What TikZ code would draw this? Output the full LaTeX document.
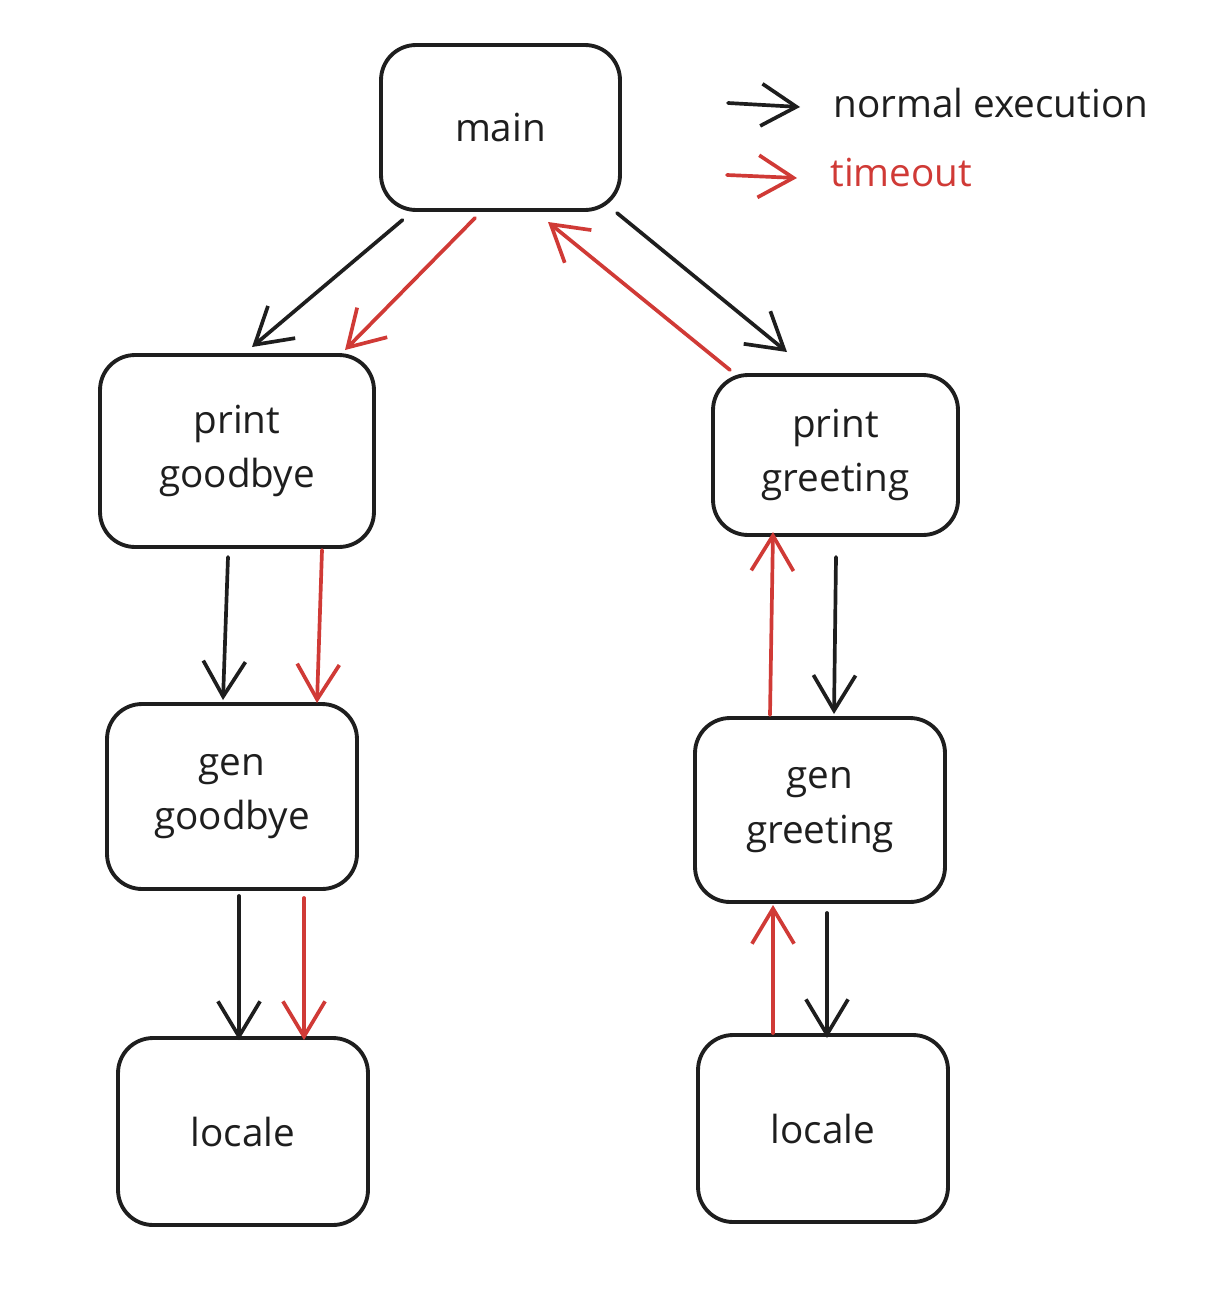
\documentclass[tikz,border=0pt]{standalone}
\usepackage{fontspec}
\setmainfont{Open Sans}
\usetikzlibrary{arrows.meta,calc}
\definecolor{ink}{HTML}{1E1E1E}
\definecolor{tred}{HTML}{D03A36}
\begin{document}
\begin{tikzpicture}[x=0.02cm,y=-0.02cm,
  box/.style={draw=ink,line width=2.2pt,rounded corners=0.7cm,inner sep=0pt,outer sep=0pt,
    align=center,font=\fontsize{22}{31}\selectfont,text=ink},
  blk/.style={draw=ink,line width=2.1pt,line cap=round,-{Straight Barb[length=20pt,width=24pt,line width=2.1pt]}},
  redarr/.style={draw=tred,line width=2.1pt,line cap=round,-{Straight Barb[length=20pt,width=24pt,line width=2.1pt]}},
  lbl/.style={anchor=west,inner sep=0pt,font=\fontsize{22}{26}\selectfont}]
\useasboundingbox (0,0) rectangle (1218,1298);
\node[box,minimum width=4.78cm,minimum height=3.3cm] (main) at (500.5,127.5) {main};
\node[box,minimum width=5.48cm,minimum height=3.84cm] (pgb) at (237,451) {print\\goodbye};
\node[box,minimum width=4.9cm,minimum height=3.2cm] (pgr) at (835.5,455) {print\\greeting};
\node[box,minimum width=5.0cm,minimum height=3.7cm] (ggb) at (232,796.5) {gen\\goodbye};
\node[box,minimum width=5.0cm,minimum height=3.68cm] (ggr) at (820,810) {gen\\greeting};
\node[box,minimum width=5.0cm,minimum height=3.74cm] (ll) at (243,1131.5) {locale};
\node[box,minimum width=5.0cm,minimum height=3.74cm] (lr) at (823,1128.5) {locale};
% connectors
\draw[blk] ($(main.south)+(-98,10)$) -- ($(pgb.north)+(15,-8)$);
\draw[redarr] ($(main.south)+(-25.5,8)$) -- ($(pgb.north)+(108,-5)$);
\draw[redarr] ($(pgr.north)+(-105.5,-5)$) -- ($(main.south)+(47.5,12)$);
\draw[blk] ($(main.south)+(116.5,3)$) -- ($(pgr.north)+(-48.5,-23)$);
\draw[blk] ($(pgb.south)+(-9,10)$) -- ($(ggb.north)+(-9,-4)$);
\draw[redarr] ($(pgb.south)+(85,3)$) -- ($(ggb.north)+(85,-1)$);
\draw[redarr] ($(ggr.north)+(-50,-3)$) -- ($(pgr.south)+(-62.5,-3)$);
\draw[blk] ($(pgr.south)+(0.5,22)$) -- ($(ggr.north)+(14,-4)$);
\draw[blk] ($(ggb.south)+(7,7)$) -- ($(ll.north)+(-4,2)$);
\draw[redarr] ($(ggb.south)+(72,9)$) -- ($(ll.north)+(61,2)$);
\draw[redarr] ($(lr.north)+(-50,-2)$) -- ($(ggr.south)+(-47,3)$);
\draw[blk] ($(ggr.south)+(7,11)$) -- ($(lr.north)+(4,3)$);
% legend
\coordinate (k1a) at (728,103); \coordinate (k1b) at (800,107);
\coordinate (k2a) at (727,175); \coordinate (k2b) at (797,178);
\draw[blk] (k1a) -- (k1b);
\draw[redarr] (k2a) -- (k2b);
\node[lbl,text=ink] (t1) at (833,103) {normal execution};
\node[lbl,text=tred] (t2) at (830,173) {timeout};
\end{tikzpicture}
\end{document}
